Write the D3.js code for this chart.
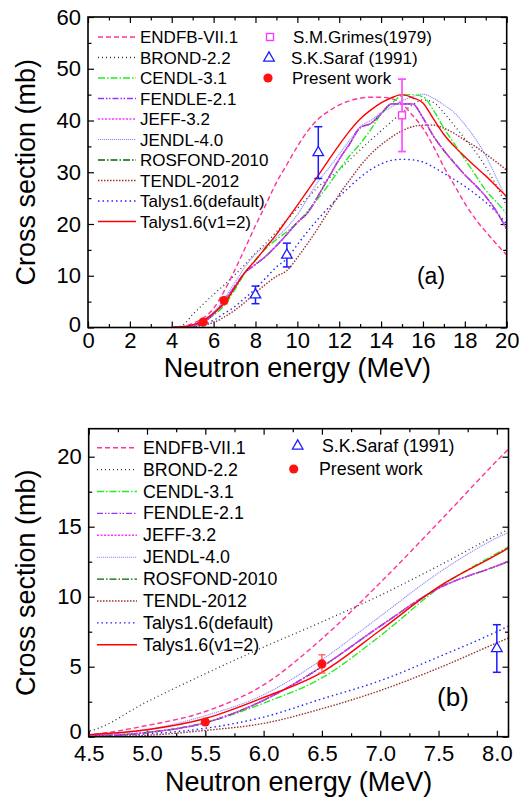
<!DOCTYPE html>
<html><head><meta charset="utf-8">
<script src="https://cdn.jsdelivr.net/npm/d3@7"></script>
<style>body{margin:0;background:#fff}svg{display:block}text{font-family:Arial,"Liberation Sans",sans-serif;fill:#000}</style>
</head><body><svg id="c" width="519" height="802"></svg>
<script>
// ---- data ----
const energies = [4.0,4.5,5.0,5.5,6.0,6.5,7.0,7.5,8.0,8.5,9.0,9.5,10,10.5,11,11.5,12,12.5,13,13.5,14,14.5,15,15.5,16,16.5,17,17.5,18,18.5,19,19.5,20];
const endfb   = [0,0.15,0.8,1.8,3.7,7.0,11.0,15.3,19.7,23.8,28,31.5,35,38,40.3,41.8,43,43.8,44.3,44.5,44.5,44.2,43.2,41,38.5,35,31,27.5,24,21,18.5,16.2,14];
const brond   = [0,0.4,2.5,4.5,6.4,8.2,10.1,12.2,14.4,16.3,18.5,20.8,23,25.1,27.2,28.8,30.5,32.4,34.3,36.2,38,39.8,41.5,43,44,43.5,41.5,39,36.5,34,31,27.5,23.5];
const cendl   = [0,0.05,0.3,1.0,2.4,4.2,7.2,10.6,13.1,15.3,17,18.5,20.3,22.5,25,27.6,30.5,33.2,35.5,38.2,41.3,43.3,44.8,45,44.6,42,38.5,35.5,32.5,29.5,26.5,24.3,22];
const fendle  = [0,0.05,0.3,1.0,2.6,5.0,7.9,10.6,12.2,13.8,15.8,18,20.3,22.2,25.5,29,32.5,35.5,38.6,39.4,41.3,43.2,43.2,43.2,40.5,37,34.2,31.8,29.5,27.5,25.3,22.5,19];
const jeff    = [0,0.05,0.3,1.0,2.6,5.0,7.9,10.6,12.2,13.8,15.8,18,20.3,22.2,25.5,29,32.5,35.5,38.6,39.4,41.3,43.2,43.2,43.2,40.5,37,34.2,31.8,29.5,27.5,25.3,22.5,19];
const jendl   = [0,0.1,0.5,1.5,3.0,5.5,8.6,11.7,14.2,15.8,17.4,19.3,21.8,25,28.3,30.8,33.5,36.2,38.8,40,41.5,42.6,43.8,44.6,45.1,44.3,43,41.5,39.2,36.5,33.2,29,24.7];
const rosfond = [0,0.05,0.3,1.0,2.6,5.0,7.9,10.6,12.2,13.8,15.8,18,20.3,22.2,25.5,29,32.5,35.5,38.6,39.4,41.3,43.2,43.2,43.2,40.5,37,34.2,31.8,29.5,27.5,25.3,22.5,19];
const tendl   = [0,0,0.1,0.45,0.95,2.0,3.3,4.9,6.7,8.4,9.9,11,13.5,16.3,19.3,22.5,25.7,28.5,31.2,33.5,35.3,36.8,38,38.8,39.1,39.1,38.5,37.5,36.2,35,33.5,32,30.4];
const talysDef= [0,0.05,0.2,0.6,1.4,2.7,4.0,5.7,7.5,9.6,11.7,13.3,16,18.6,21,23.2,25.3,27.2,29,30.5,31.6,32.3,32.5,32.4,32,31,29.8,28.6,27.3,25.8,24.2,22.3,20];
const talysV2 = [0,0.15,0.5,1.3,2.8,4.6,7.6,10.7,13.0,15.5,18,20.8,23.6,26.5,29.4,32.4,35.3,38,40.3,42,43.4,44.4,45,44.4,43.4,40.3,37.3,35,33,31.1,29.3,27.3,25.3];

const grimesE = [15.0], grimesV = [41], grimesErr = [7];
const sarafE = [8.0, 9.5, 11.0], sarafV = [6.3, 14.0, 33.8], sarafErr = [1.7, 2.3, 5.0];
const presentE = [5.5, 6.5], presentV = [1.05, 5.2], presentErr = [0.15, 0.65];

const topXTicks = [0,2,4,6,8,10,12,14,16,18,20];
const topYTicks = [0,10,20,30,40,50,60];
const botXTicks = [4.5,5.0,5.5,6.0,6.5,7.0,7.5,8.0];
const botYTicks = [0,5,10,15,20];

const seriesNames = ["ENDFB-VII.1","BROND-2.2","CENDL-3.1","FENDLE-2.1","JEFF-3.2","JENDL-4.0","ROSFOND-2010","TENDL-2012","Talys1.6(default)","Talys1.6(v1=2)"];
const seriesData = [endfb,brond,cendl,fendle,jeff,jendl,rosfond,tendl,talysDef,talysV2];
const seriesColor = ["#ff3399","#333333","#22ee22","#9933ff","#ff33ff","#8c8cff","#006600","#993333","#2222ff","#ff0000"];
const seriesDash = ["5,3","1,3","7,2,1.5,2","6,2,1.5,1.5,1.5,2","2,1.5","1.2,0.8","7,2,1.5,2","1.5,1.5","1.5,3",null];
const seriesWidth = [1.4,1.3,1.4,1.4,1.4,1.1,1.3,1.4,1.4,1.4];
const drawOrder = [8,7,0,1,5,2,6,3,4,9];

const svg = d3.select("#c");

function panel(cfg){
  const g = svg.append("g");
  const x = d3.scaleLinear().domain(cfg.xd).range(cfg.xr);
  const y = d3.scaleLinear().domain(cfg.yd).range(cfg.yr);
  const [x0,x1] = cfg.xr, [y0,y1] = cfg.yr; // y0 bottom, y1 top
  const cid = "clip"+cfg.id;
  svg.append("clipPath").attr("id",cid).append("rect").attr("x",x0).attr("y",y1).attr("width",x1-x0).attr("height",y0-y1);

  // axes
  const fmt = cfg.fmt;
  g.append("g").attr("transform",`translate(0,${y0})`).call(d3.axisBottom(x).tickValues(cfg.xt).tickSize(-6).tickPadding(cfg.xpad).tickFormat(fmt.x));
  g.append("g").attr("transform",`translate(0,${y0})`).call(d3.axisBottom(x).tickValues(cfg.xm).tickSize(-3.5).tickFormat(""));
  g.append("g").attr("transform",`translate(0,${y1})`).call(d3.axisTop(x).tickValues(cfg.xt).tickSize(-6).tickFormat(""));
  g.append("g").attr("transform",`translate(0,${y1})`).call(d3.axisTop(x).tickValues(cfg.xm).tickSize(-3.5).tickFormat(""));
  const yax = g.append("g").attr("transform",`translate(${x0},0)`).call(d3.axisLeft(y).tickValues(cfg.yt).tickSize(-6).tickPadding(7).tickFormat(fmt.y));
  g.append("g").attr("transform",`translate(${x0},0)`).call(d3.axisLeft(y).tickValues(cfg.ym).tickSize(-3.5).tickFormat(""));
  g.append("g").attr("transform",`translate(${x1},0)`).call(d3.axisRight(y).tickValues(cfg.yt).tickSize(-6).tickFormat(""));
  g.append("g").attr("transform",`translate(${x1},0)`).call(d3.axisRight(y).tickValues(cfg.ym).tickSize(-3.5).tickFormat(""));
  g.selectAll(".domain").remove();
  g.selectAll(".tick line").attr("stroke","#000").attr("stroke-width",1.2);
  g.selectAll(".tick text").attr("font-size",22).attr("font-family","Arial, 'Liberation Sans', sans-serif");
  // lift the zero label slightly so it clears the x tick labels
  yax.selectAll(".tick text").filter(d=>d===0).attr("dy",cfg.zeroDy);

  // curves
  const line = d3.line().x((d,i)=>x(energies[i])).y(d=>y(d)).curve(d3.curveMonotoneX);
  const cg = g.append("g").attr("clip-path",`url(#${cid})`);
  drawOrder.forEach(k=>{
    cg.append("path").attr("d",line(seriesData[k])).attr("fill","none")
      .attr("stroke",seriesColor[k]).attr("stroke-width",seriesWidth[k])
      .attr("stroke-dasharray",seriesDash[k]);
  });

  // experimental
  function errbar(E,V,Er,color,cap,w){
    E.forEach((e,i)=>{
      if(e<cfg.xd[0]||e>cfg.xd[1]) return;
      const cx=x(e), t=y(V[i]+Er[i]), b=y(V[i]-Er[i]);
      g.append("line").attr("x1",cx).attr("x2",cx).attr("y1",t).attr("y2",b).attr("stroke",color).attr("stroke-width",w);
      g.append("line").attr("x1",cx-cap).attr("x2",cx+cap).attr("y1",t).attr("y2",t).attr("stroke",color).attr("stroke-width",w);
      g.append("line").attr("x1",cx-cap).attr("x2",cx+cap).attr("y1",b).attr("y2",b).attr("stroke",color).attr("stroke-width",w);
    });
  }
  if(cfg.grimes){
    errbar(grimesE,grimesV,grimesErr,"#ff55ff",4,1.8);
    grimesE.forEach((e,i)=>g.append("rect").attr("x",x(e)-3.5).attr("y",y(grimesV[i])-3.5).attr("width",7).attr("height",7).attr("fill","#fff").attr("stroke","#ff33ff").attr("stroke-width",1.3));
  }
  errbar(sarafE,sarafV,sarafErr,"#1a1aff",4,1.5);
  const tri = d3.symbol().type(d3.symbolTriangle).size(48);
  sarafE.forEach((e,i)=>{ if(e<=cfg.xd[1]) g.append("path").attr("d",tri()).attr("transform",`translate(${x(e)},${y(sarafV[i])})`).attr("fill","#fff").attr("stroke","#1a1aff").attr("stroke-width",1.3);});
  errbar(presentE,presentV,presentErr,"#ff5555",3.5,1.3);
  presentE.forEach((e,i)=>g.append("circle").attr("cx",x(e)).attr("cy",y(presentV[i])).attr("r",4.6).attr("fill","#ff1111"));

  // frame
  g.append("rect").attr("x",x0).attr("y",y1).attr("width",x1-x0).attr("height",y0-y1).attr("fill","none").attr("stroke","#000").attr("stroke-width",1.6);

  // legend left
  cfg.legY.forEach((ly,k)=>{
    g.append("line").attr("x1",cfg.legX[0]).attr("x2",cfg.legX[1]).attr("y1",ly).attr("y2",ly)
      .attr("stroke",seriesColor[k]).attr("stroke-width",seriesWidth[k]).attr("stroke-dasharray",seriesDash[k]);
    g.append("text").attr("x",cfg.legX[2]).attr("y",ly+6).attr("font-size",cfg.legFS).text(seriesNames[k]);
  });
  // legend right
  cfg.rleg.forEach(r=>{
    if(r.t==="sq") g.append("rect").attr("x",r.mx-3.5).attr("y",r.y-3.5).attr("width",7).attr("height",7).attr("fill","#fff").attr("stroke","#ff33ff").attr("stroke-width",1.3);
    if(r.t==="tri") g.append("path").attr("d",tri()).attr("transform",`translate(${r.mx},${r.y})`).attr("fill","#fff").attr("stroke","#1a1aff").attr("stroke-width",1.3);
    if(r.t==="c") g.append("circle").attr("cx",r.mx).attr("cy",r.y).attr("r",4.6).attr("fill","#ff1111");
    g.append("text").attr("x",r.tx).attr("y",r.y+6).attr("font-size",cfg.legFS).text(r.label);
  });

  // axis titles
  g.append("text").attr("x",(x0+x1)/2).attr("y",cfg.xtY).attr("text-anchor","middle").attr("font-size",27).text("Neutron energy (MeV)");
  g.append("text").attr("transform",`translate(${cfg.ytX},${(y0+y1)/2}) rotate(-90)`).attr("text-anchor","middle").attr("font-size",27).text("Cross section (mb)");
  g.append("text").attr("x",cfg.tag[0]).attr("y",cfg.tag[1]).attr("text-anchor","middle").attr("font-size",cfg.tag[3]).text(cfg.tag[2]);
}

panel({id:"a", xd:[0,20], xr:[88,506.7], yd:[0,60], yr:[327.5,17],
  xt:topXTicks, xm:d3.range(1,20,2), yt:topYTicks, ym:d3.range(5,60,10), xpad:5, zeroDy:"0.18em",
  fmt:{x:d3.format("d"), y:d3.format("d")},
  grimes:true, legFS:17,
  legX:[98,136,140], legY:seriesNames.map((n,i)=>37+i*20.5),
  rleg:[{t:"sq",mx:270,y:37,tx:293,label:"S.M.Grimes(1979)"},{t:"tri",mx:269,y:58,tx:291,label:"S.K.Saraf (1991)"},{t:"c",mx:268,y:78,tx:292,label:"Present work"}],
  xtY:377, ytX:35, tag:[431,284,"(a)",23]});

panel({id:"b", xd:[4.5,8.1], xr:[88.7,508.5], yd:[0,22], yr:[736.7,428.7],
  xt:botXTicks, xm:[4.75,5.25,5.75,6.25,6.75,7.25,7.75], yt:botYTicks, ym:[2.5,7.5,12.5,17.5], xpad:9, zeroDy:"0.08em",
  fmt:{x:d3.format(".1f"), y:d3.format("d")},
  grimes:false, legFS:17.8,
  legX:[97,137,143], legY:seriesNames.map((n,i)=>447.7+i*21.9),
  rleg:[{t:"tri",mx:297.7,y:446,tx:322,label:"S.K.Saraf (1991)"},{t:"c",mx:293.7,y:469,tx:319,label:"Present work"}],
  xtY:791, ytX:35, tag:[453,706,"(b)",26]});
</script></body></html>
